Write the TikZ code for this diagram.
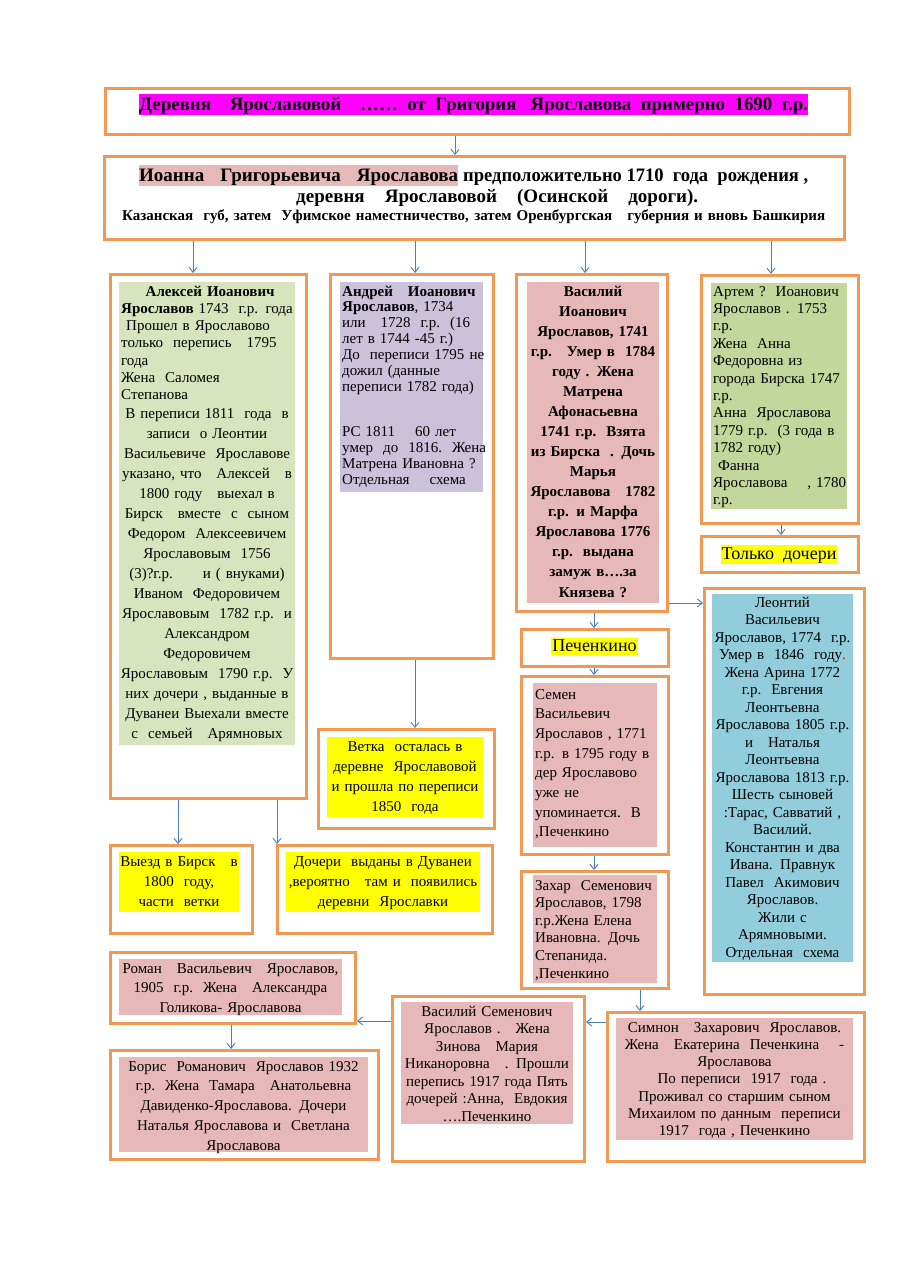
\documentclass[tikz,border=0pt]{standalone}
\usepackage{fontspec}
\setmainfont{Liberation Serif}
\usepackage{graphicx}
\usetikzlibrary{arrows.meta,calc}
\definecolor{obor}{RGB}{242,152,82}
\definecolor{arrc}{RGB}{74,126,187}
\definecolor{grA}{HTML}{D7E4BD}
\definecolor{grB}{HTML}{C3D69B}
\definecolor{purp}{HTML}{CCC1DA}
\definecolor{pinkf}{HTML}{E6B9B8}
\definecolor{bluef}{HTML}{92CDDC}
\definecolor{yelf}{HTML}{FFFF00}
\definecolor{magf}{HTML}{FF00FF}
\newlength\fitlen
\newcommand\fitbox[2]{\settowidth\fitlen{#2}\ifdim\fitlen>#1\relax\resizebox{#1}{\height}{#2}\else\makebox[#1][s]{#2}\fi}
\newcommand\ob[5]{\node[obox, minimum width={#4-#2}, minimum height={#5-#3}] (#1) at (#2,#3) {};}
\newcommand\fb[6]{\node[fbox, fill=#6, minimum width={#4-#2}, minimum height={#5-#3}] (#1) at (#2,#3) {};}
\tikzset{
  obox/.style={draw=obor, line width=3pt, fill=white, rectangle, inner sep=0pt, anchor=north west},
  fbox/.style={rectangle, inner sep=0pt, anchor=north west, draw=none},
  arr/.style={draw=arrc, line width=0.9pt, -{Straight Barb[length=5pt,width=8pt]}},
  ltxt/.style={inner sep=0pt, anchor=base west, align=left},
  ctxt/.style={inner sep=0pt, anchor=base, align=center},
  hl/.style={inner xsep=1pt, inner ysep=0pt, anchor=base},
}
\begin{document}
\begin{tikzpicture}[x=1pt,y=-1pt]
\useasboundingbox (0,0) rectangle (905,1280);
\fill[white] (0,0) rectangle (905,1280);

% ---------- outer boxes ----------
\ob{title}{104}{87}{848}{133}
\ob{second}{103}{155}{843}{238}
\ob{alexei}{109}{273}{305}{797}
\ob{andrey}{329}{273}{492}{657}
\ob{vasily}{515}{273}{666}{610}
\ob{artem}{700}{274}{857}{522}
\ob{tolko}{700}{535}{857}{571}
\ob{leont}{703}{587}{863}{993}
\ob{pechen}{520}{628}{667}{665}
\ob{semen}{520}{675}{667}{853}
\ob{zahar}{520}{870}{667}{987}
\ob{vetka}{317}{728}{493}{827}
\ob{vyezd}{109}{844}{251}{932}
\ob{docheri}{276}{844}{491}{932}
\ob{roman}{109}{951}{354}{1022}
\ob{boris}{109}{1049}{377}{1158}
\ob{vassem}{391}{995}{583}{1160}
\ob{simon}{606}{1011}{863}{1160}

% ---------- fills ----------
\fb{alexeiF}{119}{282}{295}{745}{grA}
\fb{andreyF}{340}{282}{483}{492}{purp}
\fb{vasilyF}{527}{282}{659}{603}{pinkf}
\fb{artemF}{711}{283}{847}{509}{grB}
\fb{leontF}{712}{594}{853}{962}{bluef}
\fb{semenF}{533}{683}{657}{847}{pinkf}
\fb{zaharF}{533}{875}{657}{983}{pinkf}
\fb{vetkaF}{327}{737}{483}{817}{yelf}
\fb{vyezdF}{119}{852}{239}{912}{yelf}
\fb{docheriF}{286}{852}{480}{912}{yelf}
\fb{romanF}{119}{959}{342}{1015}{pinkf}
\fb{borisF}{119}{1057}{368}{1152}{pinkf}
\fb{vassemF}{401}{1002}{573}{1124}{pinkf}
\fb{simonF}{616}{1018}{853}{1140}{pinkf}

% ---------- title texts ----------
\node[hl, fill=magf, anchor=base west, inner xsep=0pt, text height=16pt, text depth=5pt] (titleT) at (139,110)
  {\fitbox{669pt}{\bfseries\fontsize{19}{19}\selectfont Деревня\ \ \ \ Ярославовой\ \ \ \ ……\ \ от\ \ Григория\ \ \ Ярославова\ \ примерно\ \ 1690\ \ г.р.}};
\node[hl, fill=pinkf, anchor=base west, inner xsep=0pt, text height=16pt, text depth=5pt] (secA) at (139,181)
  {\fitbox{319pt}{\bfseries\fontsize{19}{19}\selectfont Иоанна\ \ \ Григорьевича\ \ \ Ярославова}};
\node[hl, anchor=base west, inner xsep=0pt] (secB) at (463,181)
  {\fitbox{345pt}{\bfseries\fontsize{19}{19}\selectfont предположительно 1710\ \ года\ \ рождения ,}};
\node[hl, anchor=base west, inner xsep=0pt] (secC) at (296,202)
  {\fitbox{402pt}{\bfseries\fontsize{19}{19}\selectfont деревня\ \ Ярославовой\ \ (Осинской\ \ дороги).}};
\node[hl, anchor=base west, inner xsep=0pt] (secD) at (122,220)
  {\fitbox{703pt}{\bfseries\fontsize{15}{15}\selectfont Казанская\ \ губ, затем\ \ Уфимское наместничество, затем Оренбургская\ \ \ губерния и вновь Башкирия}};

% ---------- Alexei ----------
\node[ltxt, text width=178pt, font=\fontsize{15}{17.3}\selectfont] (alexeiT1) at (121,296) {%
\makebox[\linewidth]{\textbf{Алексей Иоанович}}\\
\textbf{Ярославов} 1743\ \ г.р. года\\
\ Прошел в Ярославово\\
только\ \ перепись\ \ \ 1795\\
года\\
Жена\ \ Саломея\\
Степанова};
\node[ctxt, text width=190pt, font=\fontsize{15}{20.06}\selectfont] (alexeiT2) at (207,418) {%
В переписи 1811\ \ года\ \ в\\
записи\ \ о Леонтии\\
Васильевиче\ \ Ярославове\\
указано, что\ \ \ Алексей\ \ \ в\\
1800 году\ \ \ выехал в\\
Бирск\ \ \ вместе\ \ с\ \ сыном\\
Федором\ \ Алексеевичем\\
Ярославовым\ \ 1756\\
(3)?г.р.\ \ \ \ \ \ и ( внуками)\\
Иваном\ \ Федоровичем\\
Ярославовым\ \ 1782 г.р.\ \ и\\
Александром\\
Федоровичем\\
Ярославовым\ \ 1790 г.р.\ \ У\\
них дочери , выданные в\\
Дуванеи Выехали вместе\\
с\ \ семьей\ \ \ Арямновых};

% ---------- Andrey ----------
\node[ltxt, text width=160pt, font=\fontsize{15}{15.9}\selectfont] (andreyT) at (342,296) {%
\textbf{Андрей\ \ \ Иоанович}\\
\textbf{Ярославов}, 1734\\
или\ \ \ 1728\ \ г.р.\ \ (16\\
лет в 1744 -45 г.)\\
До\ \ переписи 1795 не\\
дожил (данные\\
переписи 1782 года)\\[29pt]
РС 1811\ \ \ \ 60 лет\\
умер\ \ до\ \ 1816.\ \ Жена\\
Матрена Ивановна ?\\
Отдельная\ \ \ \ схема};

% ---------- Vasily ----------
\node[ctxt, text width=150pt, font=\bfseries\fontsize{15}{20.07}\selectfont] (vasilyT) at (593,296) {%
Василий\\
Иоанович\\
Ярославов, 1741\\
г.р.\ \ \ Умер в\ \ 1784\\
году . Жена\\
Матрена\\
Афонасьевна\\
1741 г.р.\ \ Взята\\
из Бирска\ \ . Дочь\\
Марья\\
Ярославова\ \ \ 1782\\
г.р. и Марфа\\
Ярославова 1776\\
г.р.\ \ выдана\\
замуж в….за\\
Князева ?};

% ---------- Artem ----------
\node[ltxt, text width=160pt, font=\fontsize{15}{17.4}\selectfont] (artemT) at (713,296) {%
Артем ?\ \ Иоанович\\
Ярославов . 1753\\
г.р.\\
Жена\ \ Анна\\
Федоровна из\\
города Бирска 1747\\
г.р.\\
Анна\ \ Ярославова\\
1779 г.р.\ \ (3 года в\\
1782 году)\\
\ Фанна\\
Ярославова\ \ \ \ , 1780\\
г.р.};

\node[hl, fill=yelf, font=\fontsize{18}{18}\selectfont, text height=14pt, text depth=5pt] (tolkoT) at (779,559) {Только\ \ дочери};

% ---------- Leontiy ----------
\node[ctxt, text width=160pt, font=\fontsize{15}{17.5}\selectfont] (leontT) at (782.5,607) {%
Леонтий\\
Васильевич\\
Ярославов, 1774\ \ г.р.\\
Умер в\ \ 1846\ \ году{\color{red}.}\\
Жена Арина 1772\\
г.р.\ \ Евгения\\
Леонтьевна\\
Ярославова 1805 г.р.\\
и\ \ \ Наталья\\
Леонтьевна\\
Ярославова 1813 г.р.\\
Шесть сыновей\\
:Тарас, Савватий ,\\
Василий.\\
Константин и два\\
Ивана. Правнук\\
Павел\ \ Акимович\\
Ярославов.\\
Жили с\\
Арямновыми.\\
Отдельная\ \ схема};

% ---------- Pechenkino / Semen / Zahar ----------
\node[hl, fill=yelf, font=\fontsize{18}{18}\selectfont, text height=13pt, text depth=4pt] (pechenT) at (594.5,651) {Печенкино};

\node[ltxt, text width=140pt, font=\fontsize{15}{19.7}\selectfont] (semenT) at (535,699) {%
Семен\\
Васильевич\\
Ярославов , 1771\\
г.р. в 1795 году в\\
дер Ярославово\\
уже не\\
упоминается.\ \ В\\
,Печенкино};

\node[ltxt, text width=140pt, font=\fontsize{15}{17.6}\selectfont] (zaharT) at (535,890) {%
Захар\ \ Семенович\\
Ярославов, 1798\\
г.р.Жена Елена\\
Ивановна. Дочь\\
Степанида.\\
,Печенкино};

% ---------- Vetka / Vyezd / Docheri ----------
\node[ctxt, text width=170pt, font=\fontsize{15}{20}\selectfont] (vetkaT) at (405,751) {%
Ветка\ \ осталась в\\
деревне\ \ Ярославовой\\
и прошла по переписи\\
1850\ \ года};

\node[ctxt, text width=140pt, font=\fontsize{15}{20}\selectfont] (vyezdT) at (179,866) {%
Выезд в Бирск\ \ \ в\\
1800\ \ году,\\
части\ \ ветки};

\node[ctxt, text width=210pt, font=\fontsize{15}{20}\selectfont] (docheriT) at (383,866) {%
Дочери\ \ выданы в Дуванеи\\
,вероятно\ \ \ там и\ \ появились\\
деревни\ \ Ярославки};

% ---------- Roman / Boris ----------
\node[ctxt, text width=240pt, font=\fontsize{15}{19.5}\selectfont] (romanT) at (230.5,973) {%
Роман\ \ \ Васильевич\ \ \ Ярославов,\\
1905\ \ г.р.\ \ Жена\ \ \ Александра\\
Голикова- Ярославова};

\node[ctxt, text width=260pt, font=\fontsize{15}{19.8}\selectfont] (borisT) at (243.5,1071) {%
Борис\ \ Романович\ \ Ярославов 1932\\
г.р.\ \ Жена\ \ Тамара\ \ \ Анатольевна\\
Давиденко-Ярославова. Дочери\\
Наталья Ярославова и\ \ Светлана\\
Ярославова};

% ---------- Vasily Semenovich / Simon ----------
\node[ctxt, text width=190pt, font=\fontsize{15}{17.5}\selectfont] (vassemT) at (487,1016) {%
Василий Семенович\\
Ярославов .\ \ \ Жена\\
Зинова\ \ \ Мария\\
Никаноровна\ \ \ . Прошли\\
перепись 1917 года Пять\\
дочерей :Анна,\ \ Евдокия\\
….Печенкино};

\node[ctxt, text width=250pt, font=\fontsize{15}{17.3}\selectfont] (simonT) at (734.5,1032) {%
Симнон\ \ \ Захарович\ \ Ярославов.\\
Жена\ \ \ Екатерина\ \ Печенкина\ \ \ \ -\\
Ярославова\\
\ \ \ По переписи\ \ 1917\ \ года .\\
Проживал со старшим сыном\\
Михаилом по данным\ \ переписи\\
1917\ \ года , Печенкино};

% ---------- connectors ----------
\draw[arr] (title.south -| 455,0) -- (second.north -| 455,0);
\draw[arr] (second.south -| 193,0) -- (alexei.north -| 193,0);
\draw[arr] (second.south -| 415,0) -- (andrey.north -| 415,0);
\draw[arr] (second.south -| 585,0) -- (vasily.north -| 585,0);
\draw[arr] (second.south -| 771,0) -- (artem.north -| 771,0);
\draw[arr] (artem.south -| 781,0) -- (tolko.north -| 781,0);
\draw[arr] (vasily.east |- 0,603) -- (leont.west |- 0,603);
\draw[arr] (vasily.south -| 594,0) -- (pechen.north -| 594,0);
\draw[arr] (pechen.south -| 594,0) -- (semen.north -| 594,0);
\draw[arr] (semen.south -| 594,0) -- (zahar.north -| 594,0);
\draw[arr] (zahar.south -| 640,0) -- (simon.north -| 640,0);
\draw[arr] (simon.west |- 0,1022) -- (vassem.east |- 0,1022);
\draw[arr] (vassem.west |- 0,1021) -- (roman.east |- 0,1021);
\draw[arr] (roman.south -| 231,0) -- (boris.north -| 231,0);
\draw[arr] (andrey.south -| 415,0) -- (vetka.north -| 415,0);
\draw[arr] (alexei.south -| 178,0) -- (vyezd.north -| 178,0);
\draw[arr] (alexei.south -| 277,0) -- (docheri.north -| 277,0);
\end{tikzpicture}
\end{document}
